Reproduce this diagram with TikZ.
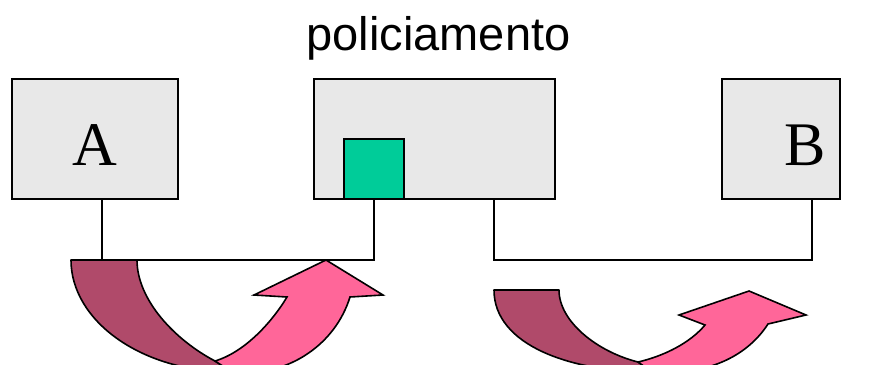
\documentclass[tikz,border=0pt]{standalone}
\usepackage{fontspec}
\setmainfont{Liberation Serif}
\newfontfamily\headfont{Liberation Sans}
\usepackage{tikz}

\definecolor{boxgray}{HTML}{E8E8E8}
\definecolor{tokgreen}{HTML}{00CC99}
\definecolor{backpink}{HTML}{B04A6A}
\definecolor{frontpink}{HTML}{FF6699}

\begin{document}
\begin{tikzpicture}[x=1pt,y=-1pt,line width=1.6pt,
  box/.style={draw=black,fill=boxgray,minimum height=120,inner sep=0pt},
  letter/.style={anchor=base,inner sep=0pt,font=\fontsize{62}{62}\selectfont},
  backside/.style={draw=black,fill=backpink,line join=round},
  frontside/.style={draw=black,fill=frontpink,line join=miter}]
\useasboundingbox (0,0) rectangle (874,364);

\node[anchor=base,inner sep=0pt,font=\headfont\fontsize{47}{47}\selectfont] (title) at (438.5,50) {policiamento};

% the three boxes
\node[box,minimum width=166] (boxA) at (95,139) {};
\node[box,minimum width=241] (police) at (434.5,139) {};
\node[box,minimum width=118] (boxB) at (781,139) {};
\node[draw=black,fill=tokgreen,minimum width=60,minimum height=60,inner sep=0pt] (token) at (374,169) {};

\node[letter] (labA) at (94.5,165) {A};
\node[letter] (labB) at (805,165) {B};

% first curved arrow
\fill[backside] (71,260) -- (137,260) .. controls (137,300) and (175,340) .. (215,361)
  -- (232,372) .. controls (140,372) and (71,320) .. cycle;
\fill[frontside] (215,361) .. controls (245,352) and (272,322) .. (287,297)
  -- (254,295) -- (326,260) -- (383,295) -- (350,297)
  .. controls (335,345) and (290,372) .. (250,372) -- (232,372) -- cycle;

% second curved arrow
\fill[backside] (494,290) -- (559,290) .. controls (559,322) and (598,352) .. (638,362)
  -- (652,372) .. controls (570,372) and (494,345) .. cycle;
\fill[frontside] (638,362) .. controls (664,356) and (690,343) .. (705,325)
  -- (679,315) -- (749,291) -- (806,315) -- (768,324)
  .. controls (748,355) and (712,372) .. (670,372) -- (652,372) -- cycle;

% connections
\coordinate (rail) at (0,260);
\coordinate (outA) at ([xshift=7]boxA.south);
\coordinate (outP) at ([xshift=59.5]police.south);
\coordinate (inB) at ([xshift=31]boxB.south);
\draw (outA) |- (token.south |- rail) -- (token.south);
\draw (outP) |- (inB |- rail) -- (inB);
\end{tikzpicture}
\end{document}
